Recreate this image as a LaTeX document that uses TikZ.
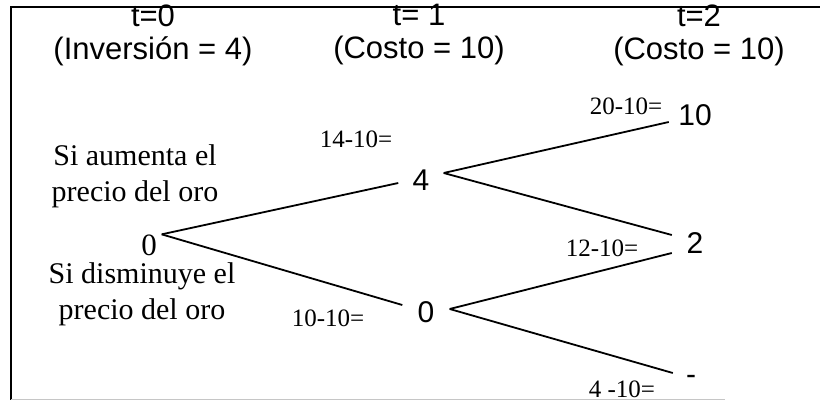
\documentclass[tikz,border=0pt]{standalone}
\usepackage{fontspec}
\setmainfont{Liberation Serif}
\setsansfont{Liberation Sans}
\usepackage{tikz}
\usetikzlibrary{positioning}

\begin{document}
\begin{tikzpicture}[
    x=1pt, y=-1pt,
    period/.style={font=\sffamily\fontsize{31}{33}\selectfont, align=center, inner sep=0pt},
    event/.style={font=\fontsize{30}{36}\selectfont, align=center, inner sep=0pt},
    value/.style={font=\sffamily\fontsize{30}{30}\selectfont, inner sep=0pt},
    calc/.style={font=\fontsize{25}{25}\selectfont, inner sep=0pt},
    branch/.style={line width=1.8pt}
]
\useasboundingbox (0,0) rectangle (820,403);
% marco
\draw[line width=1.2pt] (820,7) -- (11,7) -- (11,400);
\draw[gray!45, line width=1pt] (11,400) -- (725,400);

% periodos
\node[period] (t0) at (153,35) {t=0\\(Inversión = 4)};
\node[period] (t1) at (419,35) {t= 1\\(Costo = 10)};
\node[period] (t2) at (699,35) {t=2\\(Costo = 10)};

% escenarios
\node[event] (up) at (135,176) {Si aumenta el\\precio del oro};
\node[event] (down) at (142,294) {Si disminuye el\\precio del oro};

% arbol
\node[font=\fontsize{31}{31}\selectfont, inner sep=0pt, minimum width=25pt] (root) at (149,245) {0};
\node[value, minimum width=45pt] (n4) at (421,180) {4};
\node[value, minimum width=47pt] (n0) at (426,312) {0};
\node[value, minimum width=52pt] (n10) at (695,115) {10};
\node[value, minimum width=46pt] (n2) at (695,243) {2};
\node[value, minimum width=36pt] (nm) at (691,380) {-};

\draw[branch] (root.north east) -- ([yshift=-3]n4.west);
\draw[branch] (root.north east) -- ([yshift=7]n0.west);
\draw[branch] ([yshift=7]n4.east) -- ([yshift=-7]n10.west);
\draw[branch] ([yshift=7]n4.east) -- ([yshift=8]n2.west);
\draw[branch] ([yshift=3]n0.east) -- ([yshift=-10]n2.west);
\draw[branch] ([yshift=3]n0.east) -- ([yshift=7]nm.west);

% calculos
\node[calc] (c14) at (356,139) {14-10=};
\node[calc] (c20) at (626,106) {20-10=};
\node[calc] (c12) at (602,248) {12-10=};
\node[calc] (c10) at (328,318) {10-10=};
\node[calc] (c4) at (622,389) {4 -10=};
\end{tikzpicture}
\end{document}
